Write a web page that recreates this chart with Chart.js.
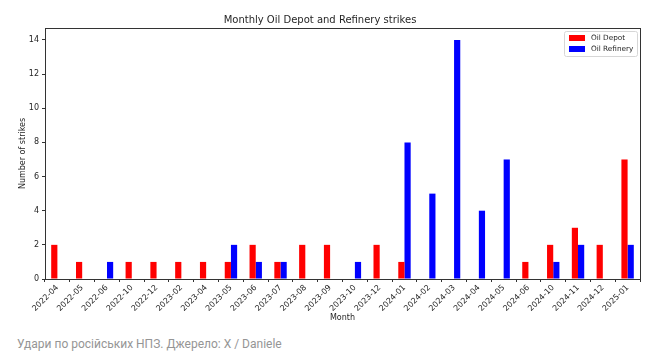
<!DOCTYPE html>
<html>
<head>
<meta charset="utf-8">
<script src="https://cdn.jsdelivr.net/npm/chart.js@4/dist/chart.umd.min.js"></script>
<style>
  html, body { margin: 0; padding: 0; background: #fff; }
  #wrap { position: relative; width: 653px; height: 330px; }
  .caption {
    position: absolute; left: 17px; top: 337px;
    font-family: Roboto, "Liberation Sans", sans-serif;
    font-size: 12px; color: #959595;
  }
</style>
</head>
<body>
<div id="wrap"><canvas id="strikes"></canvas></div>
<div class="caption">Удари по російських НПЗ. Джерело: X / Daniele</div>
<script>
// Chart data
const months = ['2022-04', '2022-05', '2022-06', '2022-10', '2022-12', '2023-02', '2023-04', '2023-05',
  '2023-06', '2023-07', '2023-08', '2023-09', '2023-10', '2023-12', '2024-01', '2024-02', '2024-03',
  '2024-04', '2024-05', '2024-06', '2024-10', '2024-11', '2024-12', '2025-01'];
const depotStrikes =    [2, 1, 0, 1, 1, 1, 1, 1, 2, 1, 2, 2, 0, 2, 1, 0, 0, 0, 0, 1, 2, 3, 2, 7];
const refineryStrikes = [0, 0, 1, 0, 0, 0, 0, 2, 1, 1, 0, 0, 1, 0, 8, 5, 14, 4, 7, 0, 1, 2, 0, 2];
const yTicks = [0, 2, 4, 6, 8, 10, 12, 14];

const font = 'DejaVu Sans';
const ink = '#262626';

// full box around the plot + legend inside the upper right corner
const frameLegend = {
  id: 'frameLegend',
  afterDraw(chart) {
    const { ctx, chartArea: a } = chart;
    ctx.save();
    ctx.strokeStyle = '#333';
    ctx.lineWidth = 1;
    ctx.strokeRect(Math.round(a.left) + 0.5, Math.round(a.top) + 0.5,
      Math.round(a.right - a.left), Math.round(a.bottom - a.top));

    const bx = Math.round(a.right) - 76, by = Math.round(a.top) + 3, bw = 73, bh = 25;
    ctx.fillStyle = 'rgba(255,255,255,0.85)';
    ctx.strokeStyle = '#d6d6d6';
    ctx.beginPath();
    ctx.roundRect(bx + 0.5, by + 0.5, bw, bh, 2);
    ctx.fill();
    ctx.stroke();
    ctx.font = '7.3px ' + font;
    ctx.textBaseline = 'middle';
    chart.data.datasets.forEach((ds, i) => {
      const y = by + 7 + i * 11;
      ctx.fillStyle = ds.backgroundColor;
      ctx.fillRect(bx + 5, y - 3, 16, 6);
      ctx.fillStyle = ink;
      ctx.fillText(ds.label, bx + 27, y + 0.5);
    });
    ctx.restore();
  }
};

new Chart(document.getElementById('strikes'), {
  type: 'bar',
  plugins: [frameLegend],
  data: {
    labels: months,
    datasets: [
      { label: 'Oil Depot', data: depotStrikes, backgroundColor: '#ff0000',
        categoryPercentage: 0.5, barPercentage: 1.0 },
      { label: 'Oil Refinery', data: refineryStrikes, backgroundColor: '#0000ff',
        categoryPercentage: 0.5, barPercentage: 1.0 }
    ]
  },
  options: {
    responsive: true,
    maintainAspectRatio: false,
    animation: false,
    layout: { padding: { left: 0, right: 13, top: 0, bottom: 0 } },
    plugins: {
      legend: { display: false },
      tooltip: { enabled: false },
      title: {
        display: true,
        text: 'Monthly Oil Depot and Refinery strikes',
        color: ink,
        font: { family: font, size: 10, weight: 'normal' },
        padding: { top: 14, bottom: 2 }
      }
    },
    scales: {
      x: {
        grid: { display: true, drawOnChartArea: false, drawTicks: true, tickLength: 3, color: '#333' },
        border: { display: false },
        ticks: { color: ink, font: { family: font, size: 8 }, minRotation: 45, maxRotation: 45, padding: 1 },
        title: { display: true, text: 'Month', color: ink, font: { family: font, size: 8 },
          padding: { top: 0, bottom: 7 } },
        afterFit: (s) => { s.height = 51; }
      },
      y: {
        min: 0,
        max: 14.7,
        afterBuildTicks: (s) => { s.ticks = yTicks.map(v => ({ value: v })); },
        grid: { display: true, drawOnChartArea: false, drawTicks: true, tickLength: 3, color: '#333' },
        border: { display: false },
        ticks: { color: ink, font: { family: font, size: 8 }, padding: 3 },
        title: { display: true, text: 'Number of strikes', color: ink, font: { family: font, size: 8 },
          padding: { top: 18, bottom: 0 } },
        afterFit: (s) => { s.width = 45; }
      }
    }
  }
});
</script>
</body>
</html>
